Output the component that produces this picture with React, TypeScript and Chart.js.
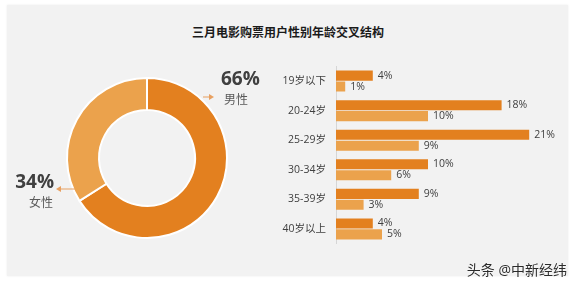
import React, { useEffect, useRef } from "react";
import { Chart, registerables } from "chart.js";

Chart.register(...registerables);

const titleText = "三月电影购票用户性别年龄交叉结构";
const genderLabels = ["男性", "女性"];
const genderShare = [66, 34];
const ageGroups = ["19岁以下", "20-24岁", "25-29岁", "30-34岁", "35-39岁", "40岁以上"];
const maleAge = [4, 18, 21, 10, 9, 4];
const femaleAge = [1, 10, 9, 6, 3, 5];
const watermark = "头条 @中新经纬";

const MALE = "#E3801F";
const FEMALE = "#EBA24C";
const ARROW = "#E8A060";
const FONT = '"Open Sans", "Noto Sans CJK SC", sans-serif';

export default function App() {
  const pieRef = useRef<HTMLCanvasElement | null>(null);
  const barRef = useRef<HTMLCanvasElement | null>(null);

  useEffect(() => {
    const pieLabels = {
      id: "pieLabels",
      afterDraw(chart: any) {
        const meta = chart.getDatasetMeta(0);
        const arc = meta.data[0];
        if (!arc) return;
        const cx = arc.x;
        const cy = arc.y;
        const ctx = chart.ctx;
        ctx.save();
        const arrow = (x1: number, y1: number, x2: number, y2: number) => {
          ctx.strokeStyle = ARROW;
          ctx.fillStyle = ARROW;
          ctx.lineWidth = 1;
          ctx.beginPath();
          ctx.moveTo(x1, y1);
          ctx.lineTo(x2, y2);
          ctx.stroke();
          const dir = Math.sign(x2 - x1);
          ctx.beginPath();
          ctx.moveTo(x2 + dir * 4, y2);
          ctx.lineTo(x2 - dir * 1, y2 - 3);
          ctx.lineTo(x2 - dir * 1, y2 + 3);
          ctx.closePath();
          ctx.fill();
        };
        // male label (upper right)
        arrow(cx + 56, cy - 61, cx + 63, cy - 61);
        ctx.textBaseline = "middle";
        ctx.textAlign = "left";
        ctx.fillStyle = "#404040";
        ctx.font = `bold 19px ${FONT}`;
        ctx.fillText(genderShare[0] + "%", cx + 74, cy - 78);
        ctx.fillStyle = "#595959";
        ctx.font = `12px ${FONT}`;
        ctx.fillText(genderLabels[0], cx + 77, cy - 57);
        // female label (left)
        arrow(cx - 72, cy + 31, cx - 87, cy + 31);
        ctx.textAlign = "right";
        ctx.fillStyle = "#404040";
        ctx.font = `bold 19px ${FONT}`;
        ctx.fillText(genderShare[1] + "%", cx - 93, cy + 25);
        ctx.fillStyle = "#595959";
        ctx.font = `12px ${FONT}`;
        ctx.fillText(genderLabels[1], cx - 94, cy + 46);
        ctx.restore();
      },
    };

    const pie = new Chart(pieRef.current as HTMLCanvasElement, {
      type: "doughnut",
      data: {
        labels: genderLabels,
        datasets: [
          {
            data: genderShare,
            backgroundColor: [MALE, FEMALE],
            borderColor: "#ffffff",
            borderWidth: 2,
          },
        ],
      },
      options: {
        responsive: false,
        animation: false,
        cutout: "60%",
        layout: { padding: { left: 59, right: 59, top: 17, bottom: 17 } },
        plugins: { legend: { display: false }, tooltip: { enabled: false } },
      },
      plugins: [pieLabels],
    });

    const valueLabels = {
      id: "valueLabels",
      afterDatasetsDraw(chart: any) {
        const ctx = chart.ctx;
        ctx.save();
        ctx.font = `10.5px ${FONT}`;
        ctx.fillStyle = "#404040";
        ctx.textAlign = "left";
        ctx.textBaseline = "middle";
        chart.data.datasets.forEach((ds: any, i: number) => {
          const meta = chart.getDatasetMeta(i);
          meta.data.forEach((el: any, j: number) => {
            ctx.fillText(ds.data[j] + "%", el.x + 5, el.y);
          });
        });
        ctx.restore();
      },
    };

    const bar = new Chart(barRef.current as HTMLCanvasElement, {
      type: "bar",
      data: {
        labels: ageGroups,
        datasets: [
          { label: "男性", data: maleAge, backgroundColor: MALE, categoryPercentage: 0.74, barPercentage: 0.92 },
          { label: "女性", data: femaleAge, backgroundColor: FEMALE, categoryPercentage: 0.74, barPercentage: 0.92 },
        ],
      },
      options: {
        indexAxis: "y",
        responsive: false,
        animation: false,
        layout: { padding: { left: 0, right: 2, top: 9, bottom: 13 } },
        plugins: { legend: { display: false }, tooltip: { enabled: false } },
        scales: {
          x: { display: false, min: 0, max: 25 },
          y: {
            grid: { display: false, drawTicks: false },
            border: { display: true, color: "#d6d6d6", width: 1 },
            ticks: { color: "#404040", font: { size: 10.5, family: FONT }, padding: 10 },
            afterFit: (s: any) => {
              s.width = 66;
            },
          },
        },
      },
      plugins: [valueLabels],
    });

    return () => {
      pie.destroy();
      bar.destroy();
    };
  }, []);

  return (
    <div style={{ position: "fixed", left: 0, top: 0, width: 576, height: 286, background: "#ffffff", overflow: "hidden" }}>
      <div
        style={{
          position: "absolute",
          left: 7,
          top: 5,
          width: 561,
          height: 271,
          background: "#f2f2f2",
          boxShadow: "0 0 2px rgba(0,0,0,0.08)",
        }}
      />
      <div
        style={{
          position: "absolute",
          left: 0,
          width: 576,
          top: 25,
          textAlign: "center",
          font: `bold 12px ${FONT}`,
          lineHeight: "16px",
          color: "#1a1a1a",
        }}
      >
        {titleText}
      </div>
      <canvas ref={pieRef} width={280} height={196} style={{ position: "absolute", left: 7, top: 60, width: 280, height: 196 }} />
      <canvas ref={barRef} width={298} height={210} style={{ position: "absolute", left: 270, top: 50, width: 298, height: 210 }} />
      <div
        style={{
          position: "absolute",
          right: 9,
          top: 261,
          font: `14px ${FONT}`,
          lineHeight: "18px",
          color: "#2b2b2b",
          textShadow: "0 0 2px #ffffff",
        }}
      >
        {watermark}
      </div>
    </div>
  );
}
